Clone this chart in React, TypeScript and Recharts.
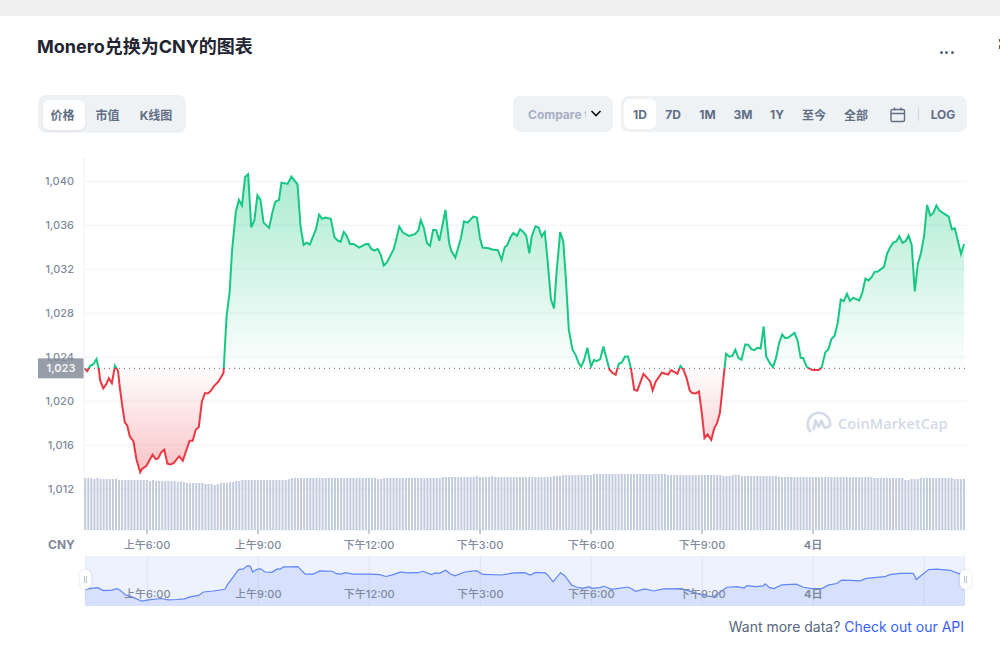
import {
  Area,
  AreaChart,
  Bar,
  BarChart,
  CartesianGrid,
  ComposedChart,
  ReferenceLine,
  XAxis,
  YAxis,
} from 'recharts'

const FONT = 'Inter, "Noto Sans CJK SC", sans-serif'
const GREEN = '#16c784'
const RED = '#ea3943'
const AXIS_TEXT = '#808a9d'
const BUTTON_TEXT = '#616e85'
const PANEL = '#eff2f5'

const BASE_PRICE = 1022.98
const TIME_DOMAIN = [257.8, 1689.7]
const CHART_MARGIN = { top: 156, right: 33, bottom: 0, left: 34 }

// minutes since midnight of the 3rd
const priceTimes = [
  258, 263, 268, 273, 278, 282, 284, 289, 294, 298, 303, 308, 313, 316, 320, 324, 328, 332, 338, 343,
  349, 352, 359, 364, 369, 374, 378, 383, 388, 393, 398, 403, 412, 418, 429, 434, 439, 444, 449, 454,
  459, 464, 469, 476, 484, 489, 494, 498, 504, 509, 514, 519, 524, 529, 534, 539, 544, 549, 558, 563,
  568, 574, 578, 588, 594, 604, 609, 614, 619, 624, 634, 639, 644, 649, 658, 664, 669, 674, 679, 684,
  689, 695, 704, 714, 719, 724, 729, 734, 739, 744, 749, 760, 764, 769, 775, 785, 795, 800, 804, 809,
  814, 819, 824, 829, 834, 844, 850, 854, 860, 869, 874, 880, 889, 895, 900, 904, 914, 920, 929, 935,
  940, 944, 950, 954, 960, 965, 970, 975, 980, 984, 990, 995, 1000, 1005, 1009, 1015, 1020, 1024, 1030, 1035,
  1039, 1044, 1050, 1055, 1060, 1064, 1069, 1074, 1080, 1085, 1089, 1095, 1100, 1110, 1115, 1120, 1125, 1130, 1135, 1140,
  1145, 1150, 1155, 1165, 1176, 1180, 1185, 1195, 1205, 1210, 1220, 1225, 1230, 1235, 1240, 1244, 1250, 1255, 1260, 1264,
  1269, 1275, 1280, 1284, 1289, 1294, 1299, 1304, 1309, 1314, 1319, 1324, 1330, 1335, 1340, 1345, 1350, 1355, 1360, 1364,
  1370, 1375, 1380, 1385, 1390, 1395, 1400, 1410, 1415, 1420, 1424, 1430, 1439, 1449, 1454, 1460, 1465, 1470, 1475, 1480,
  1485, 1490, 1495, 1500, 1505, 1515, 1520, 1525, 1530, 1535, 1540, 1545, 1555, 1560, 1565, 1570, 1575, 1580, 1585, 1590,
  1595, 1600, 1605, 1610, 1615, 1620, 1625, 1630, 1635, 1640, 1645, 1650, 1660, 1665, 1670, 1680, 1685,
]

const priceValues = [
  1023.0, 1022.73, 1023.21, 1023.36, 1023.82, 1022.85, 1021.88, 1021.15, 1021.55, 1022.06, 1021.64, 1023.2, 1022.73, 1021.18, 1019.52, 1018.06, 1017.76, 1016.79, 1016.33, 1014.67,
  1013.52, 1013.82, 1014.12, 1014.61, 1015.12, 1014.73, 1014.79, 1015.33, 1015.58, 1014.3, 1014.24, 1014.36, 1014.97, 1014.58, 1016.39, 1016.39, 1017.39, 1017.64, 1019.97, 1020.73,
  1020.7, 1020.97, 1021.39, 1021.79, 1022.55, 1027.7, 1029.97, 1033.76, 1037.24, 1038.3, 1037.79, 1040.39, 1040.64, 1035.82, 1036.42, 1038.73, 1038.3, 1036.24, 1035.76, 1037.09,
  1038.15, 1038.3, 1039.88, 1039.76, 1040.42, 1039.73, 1035.88, 1034.21, 1034.42, 1034.24, 1035.64, 1036.97, 1036.58, 1036.7, 1036.58, 1034.91, 1034.61, 1034.48, 1035.39, 1035.03,
  1034.3, 1034.3, 1033.97, 1034.27, 1034.3, 1033.82, 1033.7, 1033.85, 1033.3, 1032.33, 1032.61, 1033.82, 1034.67, 1035.88, 1035.33, 1035.03, 1035.21, 1035.52, 1036.48, 1035.73,
  1034.36, 1034.12, 1035.58, 1035.55, 1034.58, 1037.39, 1034.36, 1033.61, 1033.06, 1034.82, 1036.36, 1036.24, 1036.79, 1036.7, 1034.82, 1033.97, 1033.91, 1033.79, 1033.73, 1032.85,
  1034.0, 1034.18, 1034.97, 1035.3, 1035.03, 1035.64, 1035.42, 1035.03, 1033.45, 1035.03, 1035.91, 1035.79, 1034.97, 1035.39, 1033.15, 1029.27, 1028.42, 1031.64, 1035.39, 1034.52,
  1031.33, 1026.48, 1024.67, 1024.21, 1023.45, 1023.12, 1023.76, 1024.85, 1023.15, 1023.76, 1023.64, 1023.82, 1024.97, 1022.85, 1022.55, 1022.39, 1023.39, 1023.51, 1024.06, 1024.06,
  1022.91, 1021.03, 1020.94, 1022.48, 1021.79, 1020.97, 1021.79, 1022.58, 1022.42, 1022.82, 1022.48, 1023.2, 1022.85, 1022.09, 1020.97, 1020.73, 1020.7, 1020.88, 1018.76, 1016.64,
  1016.97, 1016.48, 1017.55, 1017.94, 1018.91, 1021.64, 1024.3, 1024.06, 1024.09, 1024.67, 1023.94, 1023.76, 1025.15, 1025.12, 1024.73, 1024.64, 1024.85, 1024.79, 1026.79, 1024.06,
  1023.45, 1023.09, 1023.91, 1025.27, 1026.06, 1025.73, 1025.79, 1026.21, 1025.52, 1023.91, 1023.91, 1023.09, 1022.82, 1022.82, 1023.06, 1024.45, 1024.73, 1025.67, 1025.94, 1027.09,
  1029.24, 1029.09, 1029.76, 1029.12, 1029.39, 1029.15, 1029.88, 1031.15, 1030.97, 1031.27, 1031.76, 1031.79, 1032.21, 1033.39, 1033.97, 1034.42, 1034.52, 1035.0, 1034.39, 1034.55,
  1035.06, 1034.21, 1029.97, 1032.48, 1033.45, 1034.97, 1037.85, 1036.88, 1037.12, 1037.79, 1037.33, 1037.15, 1036.79, 1035.64, 1035.73, 1033.39, 1034.3,
]

// one bar every 5 minutes, first one at volumeStart
const volumeStart = 259
const volumeStep = 5
const volumeValues = [
  5.2, 5.2, 5.15, 5.1, 5.2, 5.1, 5.1, 5.1, 5.1, 5.1, 5.1, 5.0, 5.0, 5.0, 5.0, 5.0, 5.0, 5.0, 5.0, 5.0,
  5.0, 4.9, 5.0, 4.9, 4.9, 4.9, 4.9, 4.9, 4.9, 4.9, 4.8, 4.9, 4.8, 4.7, 4.7, 4.7, 4.7, 4.7, 4.7, 4.6,
  4.6, 4.6, 4.5, 4.6, 4.7, 4.7, 4.7, 4.8, 4.8, 4.9, 4.9, 5.0, 5.0, 5.0, 5.0, 5.0, 5.0, 5.0, 5.0, 5.0,
  5.0, 5.0, 5.0, 5.0, 5.0, 5.0, 5.1, 5.2, 5.2, 5.2, 5.2, 5.2, 5.2, 5.2, 5.2, 5.2, 5.2, 5.2, 5.2, 5.2,
  5.2, 5.2, 5.2, 5.2, 5.2, 5.2, 5.2, 5.2, 5.2, 5.2, 5.2, 5.2, 5.2, 5.2, 5.2, 5.1, 5.1, 5.2, 5.2, 5.2,
  5.2, 5.2, 5.2, 5.2, 5.2, 5.2, 5.2, 5.2, 5.2, 5.2, 5.2, 5.2, 5.2, 5.2, 5.2, 5.2, 5.3, 5.3, 5.3, 5.3,
  5.3, 5.3, 5.3, 5.3, 5.3, 5.3, 5.3, 5.4, 5.3, 5.3, 5.3, 5.3, 5.4, 5.3, 5.3, 5.3, 5.3, 5.3, 5.3, 5.3,
  5.3, 5.3, 5.3, 5.3, 5.3, 5.3, 5.3, 5.3, 5.3, 5.3, 5.3, 5.3, 5.4, 5.4, 5.4, 5.5, 5.5, 5.5, 5.5, 5.5,
  5.5, 5.5, 5.5, 5.5, 5.5, 5.6, 5.6, 5.6, 5.6, 5.6, 5.6, 5.6, 5.6, 5.6, 5.6, 5.6, 5.6, 5.6, 5.6, 5.6,
  5.6, 5.6, 5.6, 5.6, 5.6, 5.6, 5.6, 5.6, 5.6, 5.5, 5.5, 5.5, 5.5, 5.5, 5.5, 5.5, 5.5, 5.5, 5.5, 5.5,
  5.5, 5.5, 5.5, 5.5, 5.5, 5.5, 5.5, 5.4, 5.4, 5.4, 5.5, 5.5, 5.5, 5.4, 5.4, 5.4, 5.4, 5.4, 5.4, 5.4,
  5.4, 5.4, 5.4, 5.4, 5.4, 5.3, 5.3, 5.3, 5.3, 5.3, 5.3, 5.3, 5.3, 5.3, 5.3, 5.3, 5.3, 5.3, 5.3, 5.3,
  5.3, 5.3, 5.3, 5.3, 5.3, 5.3, 5.3, 5.3, 5.3, 5.3, 5.3, 5.3, 5.3, 5.3, 5.3, 5.3, 5.2, 5.2, 5.2, 5.2,
  5.2, 5.2, 5.2, 5.2, 5.2, 5.2, 5.0, 5.0, 5.1, 5.1, 5.1, 5.2, 5.2, 5.2, 5.2, 5.2, 5.2, 5.2, 5.2, 5.2,
  5.2, 5.2, 5.1, 5.1, 5.1, 5.1,
]

const overviewTimes = [
  259, 263, 280, 289, 302, 311, 317, 324, 332, 340, 351, 362, 383, 394, 408, 421, 429, 443, 451, 467,
  486, 490, 500, 508, 516, 522, 527, 531, 537, 543, 551, 562, 570, 576, 581, 594, 604, 609, 616, 629,
  640, 660, 667, 674, 681, 694, 721, 737, 747, 759, 771, 781, 799, 807, 813, 821, 827, 834, 844, 851,
  859, 875, 894, 904, 934, 954, 972, 981, 990, 1005, 1010, 1018, 1030, 1037, 1048, 1056, 1067, 1076, 1081, 1094,
  1101, 1113, 1140, 1152, 1167, 1181, 1197, 1226, 1245, 1262, 1278, 1300, 1316, 1328, 1332, 1346, 1359, 1362, 1369, 1376,
  1389, 1412, 1424, 1437, 1454, 1464, 1478, 1486, 1500, 1516, 1526, 1556, 1564, 1581, 1602, 1607, 1627, 1640, 1662, 1678, 1686,
]

const overviewValues = [
  1021.7, 1021.7, 1022.8, 1020.3, 1020.8, 1022.0, 1020.3, 1016.9, 1015.8, 1014.1, 1011.6, 1012.7, 1013.8, 1012.7, 1013.0, 1013.5, 1015.2, 1016.4, 1019.2, 1020.0,
  1021.4, 1025.3, 1032.1, 1037.7, 1038.2, 1040.8, 1040.5, 1035.7, 1037.7, 1038.5, 1035.7, 1035.4, 1038.0, 1038.2, 1039.9, 1039.9, 1040.2, 1037.7, 1034.0, 1034.0,
  1036.6, 1036.3, 1034.3, 1034.0, 1035.1, 1034.0, 1034.0, 1033.5, 1032.0, 1033.5, 1035.7, 1034.9, 1035.1, 1036.3, 1035.1, 1033.5, 1034.9, 1034.6, 1037.1, 1034.3,
  1032.6, 1035.7, 1036.8, 1033.7, 1033.2, 1034.9, 1035.1, 1033.2, 1035.4, 1034.9, 1032.9, 1027.6, 1035.1, 1032.6, 1025.0, 1023.3, 1022.2, 1023.6, 1022.2, 1022.8,
  1023.9, 1021.4, 1023.3, 1019.7, 1021.7, 1020.0, 1021.7, 1022.0, 1019.1, 1016.3, 1015.2, 1023.1, 1023.6, 1022.5, 1024.5, 1023.6, 1024.2, 1025.9, 1022.8, 1022.0,
  1025.0, 1025.6, 1023.1, 1022.0, 1022.0, 1024.8, 1026.2, 1029.0, 1028.7, 1028.4, 1030.4, 1031.8, 1033.5, 1034.6, 1034.6, 1029.5, 1037.7, 1038.0, 1037.1, 1034.0, 1033.5,
]

const priceTicks = [1012, 1016, 1020, 1024, 1028, 1032, 1036, 1040]
const timeTicks = [360, 540, 720, 900, 1080, 1260, 1440]
const timeLabels = ['上午6:00', '上午9:00', '下午12:00', '下午3:00', '下午6:00', '下午9:00', '4日']
const overviewTicks = [360, 540, 720, 900, 1080, 1260, 1440, 1620]

const typeButtons = ['价格', '市值', 'K线图']

const priceRows = priceTimes.map((t, i) => ({ t, price: priceValues[i] }))
const volumeRows = volumeValues.map((volume, i) => ({ t: volumeStart + i * volumeStep, volume }))
const overviewRows = overviewTimes.map((t, i) => ({ t, price: overviewValues[i] }))

const maxPrice = Math.max(...priceValues)
const minPrice = Math.min(...priceValues)
const splitOffset = (maxPrice - BASE_PRICE) / (maxPrice - minPrice)

const formatTime = (t: number) => timeLabels[timeTicks.indexOf(t)] ?? ''

function TimeTick({ x, y, payload, dy }: any) {
  const label = formatTime(payload.value)
  return (
    <text
      x={x}
      y={y}
      dy={dy}
      textAnchor="middle"
      fontSize={11}
      fontWeight={label === '4日' ? 700 : 500}
      fontFamily={FONT}
      fill={AXIS_TEXT}
    >
      {label}
    </text>
  )
}

function BaseLabel({ viewBox }: any) {
  const { x, y } = viewBox
  return (
    <g>
      <rect x={x - 46} y={y - 10} width={46} height={20} fill="#989ea9" />
      <text
        x={x - 23}
        y={y + 4}
        textAnchor="middle"
        fontSize={11}
        fontWeight={600}
        fontFamily={FONT}
        fill="#f4f5f7"
      >
        1,023
      </text>
    </g>
  )
}

function Label({ x, y, children, style }: any) {
  return (
    <span
      style={{
        position: 'absolute',
        left: x,
        top: y,
        transform: 'translate(-50%, -50%)',
        whiteSpace: 'nowrap',
        ...style,
      }}
    >
      {children}
    </span>
  )
}

function Box({ x, y, w, h, r = 0, bg, style }: any) {
  return (
    <div
      style={{
        position: 'absolute',
        left: x,
        top: y,
        width: w,
        height: h,
        borderRadius: r,
        background: bg,
        ...style,
      }}
    />
  )
}

const buttonText = { fontSize: 12, fontWeight: 700, color: BUTTON_TEXT }

function Header() {
  return (
    <>
      <Box x={0} y={0} w={1000} h={16} bg="#f0f0f0" />
      <Box x={999} y={39} w={1} h={3} bg="#a5520f" />
      <Box x={999} y={45} w={1} h={4} bg="#a5520f" />
      <div
        style={{
          position: 'absolute',
          left: 37,
          top: 35,
          fontSize: 18,
          lineHeight: '24px',
          fontWeight: 700,
          color: '#222531',
          whiteSpace: 'nowrap',
        }}
      >
        Monero兑换为CNY的图表
      </div>
      {[941, 946.5, 952].map((x) => (
        <Box key={x} x={x - 1.5} y={50.5} w={3} h={3} r={2} bg="#58667e" />
      ))}

      <Box x={38} y={95} w={148} h={38} r={8} bg={PANEL} />
      <Box x={43} y={100} w={42} h={30} r={6} bg="#fff" style={{ boxShadow: '0 1px 2px rgba(88,102,126,.12)' }} />
      {typeButtons.map((b, i) => (
        <Label key={b} x={[62.5, 107.5, 156][i]} y={114} style={buttonText}>
          {b}
        </Label>
      ))}

      <Box x={513} y={96} w={100} h={36} r={8} bg={PANEL} />
      <div
        style={{
          position: 'absolute',
          left: 528,
          top: 106,
          width: 58,
          overflow: 'hidden',
          whiteSpace: 'nowrap',
          fontSize: 12,
          lineHeight: '17px',
          fontWeight: 700,
          color: '#a6b0c3',
        }}
      >
        Compare to
      </div>
      <svg style={{ position: 'absolute', left: 590, top: 109 }} width={12} height={9}>
        <path d="M1.5 2 L6 6.5 L10.5 2" fill="none" stroke="#111" strokeWidth={1.6} />
      </svg>

      <Box x={621} y={96} w={346} h={36} r={8} bg={PANEL} />
      <Box x={624} y={99} w={32} h={30} r={6} bg="#fff" />
      {['1D', '7D', '1M', '3M', '1Y', '至今', '全部'].map((b, i) => (
        <Label key={b} x={[640, 673, 707.5, 743, 777, 814, 856][i]} y={114} style={buttonText}>
          {b}
        </Label>
      ))}
      <svg style={{ position: 'absolute', left: 889, top: 106 }} width={18} height={18}>
        <rect x={2} y={3.5} width={13.5} height={12} rx={1.5} fill="none" stroke={BUTTON_TEXT} strokeWidth={1.4} />
        <path d="M2 7.5 H15.5 M5.5 1.5 V4.5 M12 1.5 V4.5" stroke={BUTTON_TEXT} strokeWidth={1.4} />
      </svg>
      <Box x={918} y={108} w={1} h={13} bg="#cfd6e4" />
      <Label x={943} y={114} style={buttonText}>
        LOG
      </Label>
    </>
  )
}

function Watermark() {
  return (
    <>
      <svg style={{ position: 'absolute', left: 806, top: 411 }} width={26} height={26}>
        <path
          d="M5 21 A11.2 11.2 0 1 1 24 14.5 C21 18 18 17 17 14 L15.5 9.5 L12.5 16 L9.5 9.5 L7.5 19"
          fill="none"
          stroke="#d3d9e6"
          strokeWidth={2.6}
          strokeLinejoin="round"
        />
      </svg>
      <div
        style={{
          position: 'absolute',
          left: 838,
          top: 414,
          fontFamily: '"Open Sans", sans-serif',
          fontSize: 14.5,
          lineHeight: '20px',
          fontWeight: 600,
          letterSpacing: 0.1,
          color: '#d3d9e6',
          whiteSpace: 'nowrap',
        }}
      >
        CoinMarketCap
      </div>
    </>
  )
}

function MainChart() {
  return (
    <div style={{ position: 'absolute', left: 0, top: 0 }}>
      <ComposedChart width={1000} height={560} data={priceRows} margin={CHART_MARGIN}>
        <defs>
          <linearGradient id="priceStroke" x1="0" y1="0" x2="0" y2="1">
            <stop offset={splitOffset} stopColor={GREEN} />
            <stop offset={splitOffset} stopColor={RED} />
          </linearGradient>
          <linearGradient id="priceFill" x1="0" y1="0" x2="0" y2="1">
            <stop offset={0} stopColor={GREEN} stopOpacity={0.36} />
            <stop offset={splitOffset} stopColor={GREEN} stopOpacity={0.01} />
            <stop offset={splitOffset} stopColor={RED} stopOpacity={0.01} />
            <stop offset={1} stopColor={RED} stopOpacity={0.3} />
          </linearGradient>
        </defs>
        <CartesianGrid vertical={false} stroke={PANEL} horizontalValues={priceTicks} />
        <XAxis
          type="number"
          dataKey="t"
          domain={TIME_DOMAIN}
          allowDataOverflow
          ticks={timeTicks}
          stroke={PANEL}
          tickLine={{ stroke: '#8f98a8' }}
          tickSize={4}
          height={30}
          tick={(p: any) => <TimeTick {...p} dy={13} />}
        />
        <YAxis
          type="number"
          domain={[1008.27, 1042.3]}
          allowDataOverflow
          ticks={priceTicks}
          tickFormatter={(v: number) => v.toLocaleString('en-US')}
          width={50}
          stroke={PANEL}
          tickLine={false}
          tickMargin={10}
          tickSize={0}
          tick={{ fontSize: 11, fontWeight: 500, fill: AXIS_TEXT, fontFamily: FONT }}
        />
        <Area
          type="linear"
          dataKey="price"
          baseValue={BASE_PRICE}
          stroke="url(#priceStroke)"
          strokeWidth={2}
          fill="url(#priceFill)"
          fillOpacity={1}
          dot={false}
          activeDot={false}
          isAnimationActive={false}
        />
        <ReferenceLine
          y={BASE_PRICE}
          stroke="#58667e"
          strokeDasharray="1 4"
          label={(props: any) => <BaseLabel {...props} />}
        />
      </ComposedChart>
    </div>
  )
}

// bars sit in their own chart so each one keeps the full 5 minute band
function VolumeChart() {
  return (
    <div style={{ position: 'absolute', left: 0, top: 0 }}>
      <BarChart width={1000} height={560} data={volumeRows} margin={{ ...CHART_MARGIN, left: 84, bottom: 30 }}>
        <XAxis type="number" dataKey="t" hide domain={TIME_DOMAIN} allowDataOverflow />
        <YAxis hide domain={[0, 37.4]} />
        <Bar dataKey="volume" barSize={2} fill="#bdc7da" fillOpacity={0.92} isAnimationActive={false} />
      </BarChart>
    </div>
  )
}

function Overview() {
  return (
    <div style={{ position: 'absolute', left: 85, top: 556, width: 880, height: 50, background: '#eef2fe' }}>
      <AreaChart
        width={880}
        height={50}
        data={overviewRows}
        margin={{ top: 0, right: 0, bottom: -1, left: 0 }}
      >
        <CartesianGrid horizontal={false} stroke="#dde3f6" />
        <XAxis
          type="number"
          dataKey="t"
          domain={[259, 1686]}
          ticks={overviewTicks}
          height={1}
          mirror
          axisLine={false}
          tickLine={false}
          tick={(p: any) => <TimeTick {...p} dy={-1} />}
        />
        <YAxis hide domain={[1006.8, 1048.9]} />
        <Area
          type="linear"
          dataKey="price"
          stroke="#5f86f8"
          strokeWidth={1.2}
          fill="#7f9cfb"
          fillOpacity={0.2}
          dot={false}
          activeDot={false}
          isAnimationActive={false}
        />
      </AreaChart>
    </div>
  )
}

function Handle({ x }: { x: number }) {
  return (
    <div
      style={{
        position: 'absolute',
        left: x,
        top: 570,
        width: 11,
        height: 19,
        borderRadius: 5,
        background: '#fff',
        boxShadow: '0 0 3px rgba(88,102,126,.25)',
      }}
    >
      <Box x={4} y={6} w={1} h={7} bg="#b8c0d0" />
      <Box x={6} y={6} w={1} h={7} bg="#b8c0d0" />
    </div>
  )
}

export default function App() {
  return (
    <div
      style={{
        position: 'absolute',
        left: 0,
        top: 0,
        width: 1000,
        height: 650,
        overflow: 'hidden',
        background: '#fff',
        fontFamily: FONT,
      }}
    >
      <Header />
      <MainChart />
      <VolumeChart />
      <Watermark />
      <div
        style={{
          position: 'absolute',
          left: 48,
          top: 537,
          fontSize: 12,
          lineHeight: '15px',
          fontWeight: 700,
          color: AXIS_TEXT,
        }}
      >
        CNY
      </div>
      <Overview />
      <Handle x={80} />
      <Handle x={960} />
      <div
        style={{
          position: 'absolute',
          right: 36,
          top: 618,
          fontSize: 14,
          lineHeight: '18px',
          color: '#58667e',
          whiteSpace: 'nowrap',
        }}
      >
        Want more data? <span style={{ color: '#3861fb' }}>Check out our API</span>
      </div>
    </div>
  )
}
